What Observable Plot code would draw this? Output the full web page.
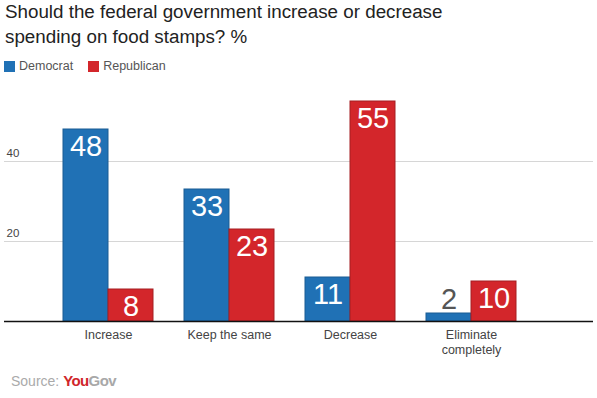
<!DOCTYPE html>
<html>
<head>
<meta charset="utf-8">
<script src="https://cdn.jsdelivr.net/npm/d3@7"></script>
<script src="https://cdn.jsdelivr.net/npm/@observablehq/plot@0.6"></script>
<style>
  html, body { margin: 0; padding: 0; background: #fff; }
  body { width: 597px; height: 398px; position: relative; overflow: hidden; font-family: "Liberation Sans", Arial, sans-serif; }
  #title { position: absolute; left: 5px; top: 0px; font-size: 18.8px; line-height: 24.5px; color: #222; width: 470px; }
  #legend { position: absolute; left: 4px; top: 59px; font-size: 12.5px; color: #555; display: flex; align-items: center; }
  #legend .item { display: flex; align-items: center; margin-right: 15px; }
  #legend .sw { width: 11px; height: 11px; margin-right: 4px; }
  .layer { position: absolute; left: 0; top: 80px; }
  .layer svg { background: transparent !important; }
  #source { position: absolute; left: 11px; top: 372px; font-size: 14px; color: #aaa; }
  #source b { font-size: 15px; letter-spacing: -0.6px; }
</style>
</head>
<body>
<div id="title"></div>
<div id="legend"></div>
<div id="grid" class="layer"></div>
<div id="bars" class="layer"></div>
<div id="base" class="layer"></div>
<div id="source">Source: <b><span style="color:#d0262a">You</span><span style="color:#a8a8a8">Gov</span></b></div>
<script>
const titleText = "Should the federal government increase or decrease spending on food stamps? %";
const categories = ["Increase", "Keep the same", "Decrease", "Eliminate\ncompletely"];
const parties = ["Democrat", "Republican"];
const democrat = [48, 33, 11, 2];
const republican = [8, 23, 55, 10];
const yTicks = [20, 40];
const fillColors = {Democrat: "#2071b5", Republican: "#d3262b"};
const strokeColors = {Democrat: "#1b5d93", Republican: "#a51e22"};

document.getElementById("title").textContent = titleText;
const legend = document.getElementById("legend");
for (const p of parties) {
  const item = document.createElement("div");
  item.className = "item";
  item.innerHTML = `<div class="sw" style="background:${fillColors[p]}"></div><span>${p}</span>`;
  legend.appendChild(item);
}

const data = [];
categories.forEach((c, i) => {
  data.push({category: c, party: "Democrat", value: democrat[i]});
  data.push({category: c, party: "Republican", value: republican[i]});
});

const common = {
  width: 597,
  height: 281,
  marginTop: 1,
  marginBottom: 40,
  marginLeft: 4,
  marginRight: 4,
  style: {fontFamily: "'Liberation Sans', Arial, sans-serif", background: "transparent"},
  y: {domain: [0, 60], axis: null}
};

const gridPlot = Plot.plot({
  ...common,
  marks: [
    Plot.ruleY(yTicks, {stroke: "#d6d6d6"}),
    Plot.text(yTicks, {y: d => d, text: d => String(d), frameAnchor: "left", textAnchor: "start", dx: 2, dy: -5, lineAnchor: "bottom", fontSize: 11.5, fill: "#444"})
  ]
});

const barPlot = Plot.plot({
  ...common,
  x: {domain: parties, padding: 0, axis: null},
  fx: {domain: categories, paddingInner: 0.254, paddingOuter: 0.541, align: 0.432, label: null},
  color: {type: "identity"},
  marks: [
    Plot.axisFx({anchor: "bottom", tickSize: 0, tickPadding: 7, fontSize: 12.5, fill: "#444", lineHeight: 1.2, label: null}),
    Plot.barY(data, {fx: "category", x: "party", y: "value", fill: d => fillColors[d.party], stroke: d => strokeColors[d.party], strokeWidth: 1, inset: 0}),
    Plot.text(data.filter(d => d.value >= 5), {fx: "category", x: "party", y: "value", text: d => String(d.value), fill: "#fff", fontSize: 29, lineAnchor: "top", dy: 6}),
    Plot.text(data.filter(d => d.value < 5), {fx: "category", x: "party", y: "value", text: d => String(d.value), fill: "#555", fontSize: 29, lineAnchor: "bottom", dy: -5})
  ]
});

const basePlot = Plot.plot({
  ...common,
  marks: [
    Plot.ruleY([0], {stroke: "#111", strokeWidth: 1.5})
  ]
});

document.getElementById("grid").appendChild(gridPlot);
document.getElementById("bars").appendChild(barPlot);
document.getElementById("base").appendChild(basePlot);
</script>
</body>
</html>
